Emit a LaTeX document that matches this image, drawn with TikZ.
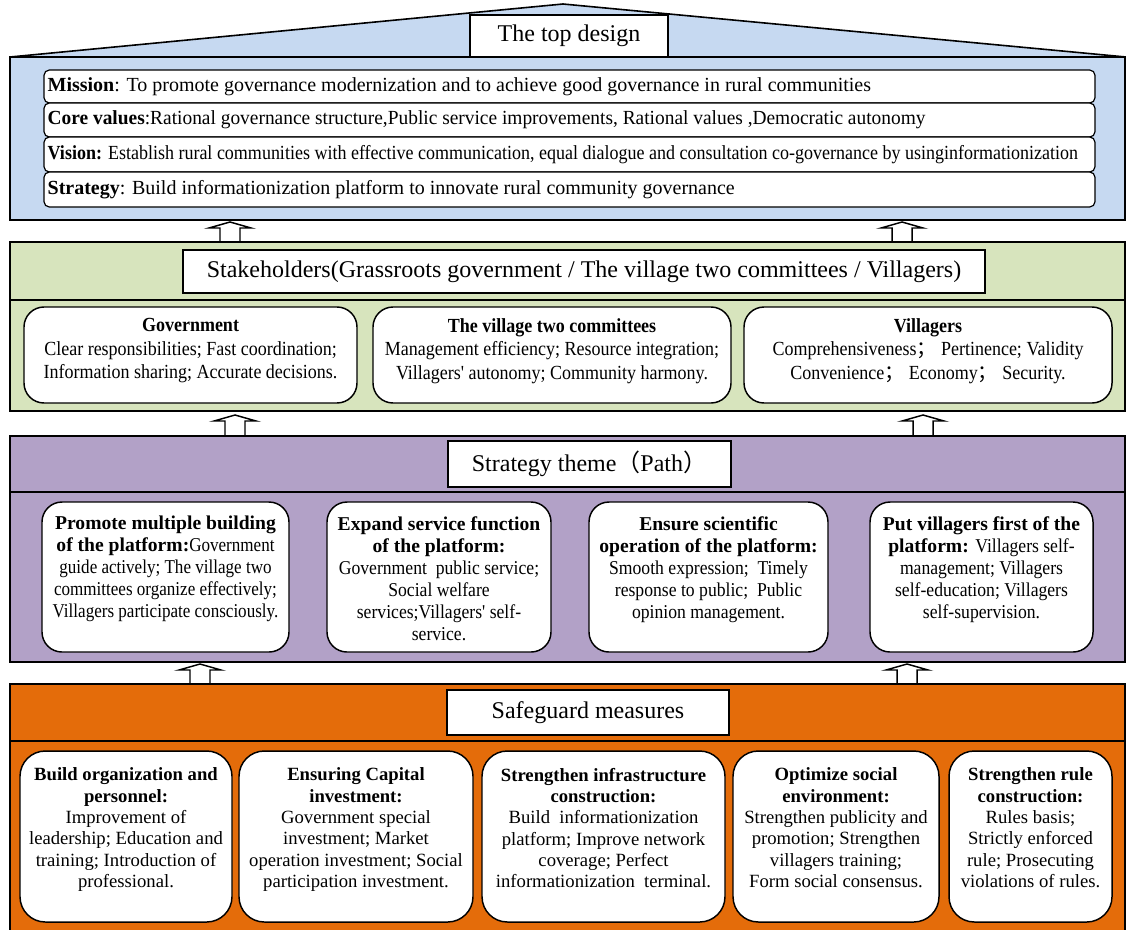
\documentclass[tikz,border=0pt]{standalone}
\usepackage{fontspec}
\setmainfont{Liberation Serif}
\newfontfamily\condserif[FakeStretch=0.9]{Liberation Serif}
\newfontfamily\narrowserif[FakeStretch=0.87]{Liberation Serif}
\newfontfamily\tightserif[FakeStretch=0.97]{Liberation Serif}
\newfontfamily\cjksans{Noto Sans CJK SC}
\usetikzlibrary{fit}

\definecolor{topblue}{RGB}{198,217,241}
\definecolor{stakegreen}{RGB}{215,228,189}
\definecolor{pathpurple}{RGB}{178,161,199}
\definecolor{guardorange}{RGB}{228,108,10}

\newcommand{\fwsemi}{{\cjksans ；}\ }

\tikzset{
  layer/.style={draw=black,line width=1.2pt},
  headbox/.style={draw=black,fill=white,line width=1pt,inner sep=0pt},
  headtext/.style={inner sep=0pt,font=\fontsize{18}{20}\selectfont},
  rowbox/.style={draw=black,fill=white,rounded corners=4pt,line width=0.9pt,inner sep=0pt},
  rowtext/.style={anchor=west,inner sep=0pt,font=\fontsize{15}{17}\selectfont},
  card/.style={draw=black,fill=white,rounded corners=15pt,line width=1.1pt,inner sep=0pt},
  cardtext/.style={anchor=north,align=center,inner sep=0pt,font=\fontsize{14}{16}\selectfont},
  uparrow/.style={draw=black,fill=white,line width=1.1pt,line join=miter},
}

\begin{document}
\begin{tikzpicture}[x=0.75pt,y=-0.75pt]
\useasboundingbox (0,0) rectangle (1126,929);
\clip (0,0) rectangle (1126,929);

% the top design
\draw[layer,fill=topblue] (10,57) -- (563,4) -- (1126,57) -- cycle;
\draw[layer,fill=topblue] (10,57) rectangle (1125,220);
\node[headbox,fit={(470,15) (668,57)}] (topdesign) {};
\node[headtext] (topdesigntext) at (topdesign.center) {The top design};
\node[rowbox,fit={(44,70) (1095,103)}] (mission) {};
\node[rowbox,fit={(44,103) (1095,137)}] (values) {};
\node[rowbox,fit={(44,137) (1095,172)}] (vision) {};
\node[rowbox,fit={(44,172) (1095,207)}] (strategy) {};
\node[rowtext] (missiontext) at ([xshift=3pt]mission.west)
  {\textbf{Mission}: To promote governance modernization and to achieve good governance in rural communities};
\node[rowtext] (valuestext) at ([xshift=3pt]values.west)
  {\tightserif\textbf{Core values}:Rational governance structure,Public service improvements, Rational values ,Democratic autonomy};
\node[rowtext] (visiontext) at ([xshift=3pt]vision.west)
  {\condserif\textbf{Vision:} Establish rural communities with effective communication, equal dialogue and consultation co-governance by usinginformationization};
\node[rowtext] (strategytext) at ([xshift=3pt]strategy.west)
  {\textbf{Strategy}: Build informationization platform to innovate rural community governance};

% arrows between the layers
\foreach \cx/\yt/\yb in {230/222/242, 902/222/242, 235/415/436, 923/415/436, 200/664/684, 907/664/684}
  \draw[uparrow] (\cx-10,\yb) -- (\cx-10,\yt+6) -- (\cx-21,\yt+6) -- (\cx,\yt)
                 -- (\cx+21,\yt+6) -- (\cx+10,\yt+6) -- (\cx+10,\yb);

% stakeholders
\draw[layer,fill=stakegreen] (10,242) rectangle (1125,411);
\draw[layer] (10,300) -- (1125,300);
\node[headbox,fit={(183,250) (985,293)}] (stake) {};
\node[headtext] (staketext) at (stake.center)
  {Stakeholders(Grassroots government / The village two committees / Villagers)};
\node[card,fit={(24,307) (357,403)}] (gov) {};
\node[card,fit={(373,307) (731,403)}] (twocom) {};
\node[card,fit={(744,307) (1112,403)}] (villagers) {};
\begin{scope}[every node/.append style={cardtext,font=\condserif\fontsize{15}{17.5}\selectfont}]
  \node (govtext) at ([yshift=-9pt]gov.north)
    {\textbf{Government}\\Clear responsibilities; Fast coordination;\\Information sharing; Accurate decisions.};
  \node (twocomtext) at ([yshift=-9pt]twocom.north)
    {\textbf{The village two committees}\\Management efficiency; Resource integration;\\Villagers' autonomy; Community harmony.};
  \node (villagerstext) at ([yshift=-9pt]villagers.north)
    {\textbf{Villagers}\\Comprehensiveness\fwsemi Pertinence; Validity\\Convenience\fwsemi Economy\fwsemi Security.};
\end{scope}

% strategy theme
\draw[layer,fill=pathpurple] (10,436) rectangle (1125,662);
\draw[layer] (10,492) -- (1125,492);
\node[headbox,fit={(448,441) (731,487)}] (theme) {};
\node[headtext] (themetext) at (theme.center) {Strategy theme{\cjksans （}Path{\cjksans ）}};
\node[card,fit={(42,502) (289,652)}] (multi) {};
\node[card,fit={(327,502) (551,652)}] (service) {};
\node[card,fit={(589,502) (828,652)}] (operation) {};
\node[card,fit={(870,502) (1093,652)}] (first) {};
\begin{scope}[every node/.append style={cardtext,font=\fontsize{14.7}{16.5}\selectfont}]
  \node (multitext) at ([yshift=-11pt]multi.north)
    {\textbf{Promote multiple building}\\\textbf{of the platform:}{\narrowserif Government}\\
     {\narrowserif guide actively; The village two}\\{\narrowserif committees organize effectively;}\\
     {\narrowserif Villagers participate consciously.}};
  \node (servicetext) at ([yshift=-11pt]service.north)
    {\textbf{Expand service function}\\\textbf{of the platform:}\\{\condserif Government\ \ public service;}\\
     {\condserif Social welfare}\\{\condserif services;Villagers' self-}\\{\condserif service.}};
  \node (operationtext) at ([yshift=-11pt]operation.north)
    {\textbf{Ensure scientific}\\\textbf{operation of the platform:}\\{\condserif Smooth expression;\ \ Timely}\\
     {\condserif response to public;\ \ Public}\\{\condserif opinion management.}};
  \node (firsttext) at ([yshift=-11pt]first.north)
    {\textbf{Put villagers first of the}\\\textbf{platform:} {\condserif Villagers self-}\\{\condserif management; Villagers}\\
     {\condserif self-education; Villagers}\\{\condserif self-supervision.}};
\end{scope}

% safeguard measures
\draw[layer,fill=guardorange] (10,684) rectangle (1125,940);
\draw[layer] (10,741) -- (1125,741);
\node[headbox,fit={(447,690) (729,735)}] (safeguard) {};
\node[headtext] (safeguardtext) at (safeguard.center) {Safeguard measures};
\node[card,rounded corners=19pt,fit={(20,751) (232,922)}] (personnel) {};
\node[card,rounded corners=19pt,fit={(239,751) (473,922)}] (capital) {};
\node[card,rounded corners=19pt,fit={(482,751) (725,922)}] (infra) {};
\node[card,rounded corners=19pt,fit={(733,751) (939,922)}] (social) {};
\node[card,rounded corners=19pt,fit={(949,751) (1112,922)}] (rule) {};
\begin{scope}[every node/.append style={cardtext}]
  \node (personneltext) at ([yshift=-13pt]personnel.north)
    {\textbf{Build organization and}\\\textbf{personnel:}\\Improvement of\\leadership; Education and\\
     training; Introduction of\\professional.};
  \node (capitaltext) at ([yshift=-13pt]capital.north)
    {\textbf{Ensuring Capital}\\\textbf{investment:}\\Government special\\investment; Market\\
     operation investment; Social\\participation investment.};
  \node (infratext) at ([yshift=-13pt]infra.north)
    {\textbf{Strengthen infrastructure}\\\textbf{construction:}\\Build\ \ informationization\\
     platform; Improve network\\coverage; Perfect\\informationization\ \ terminal.};
  \node (socialtext) at ([yshift=-13pt]social.north)
    {\textbf{Optimize social}\\\textbf{environment:}\\Strengthen publicity and\\promotion; Strengthen\\
     villagers training;\\Form social consensus.};
  \node (ruletext) at ([yshift=-13pt]rule.north)
    {\textbf{Strengthen rule}\\\textbf{construction:}\\Rules basis;\\Strictly enforced\\
     rule; Prosecuting\\violations of rules.};
\end{scope}
\end{tikzpicture}
\end{document}
